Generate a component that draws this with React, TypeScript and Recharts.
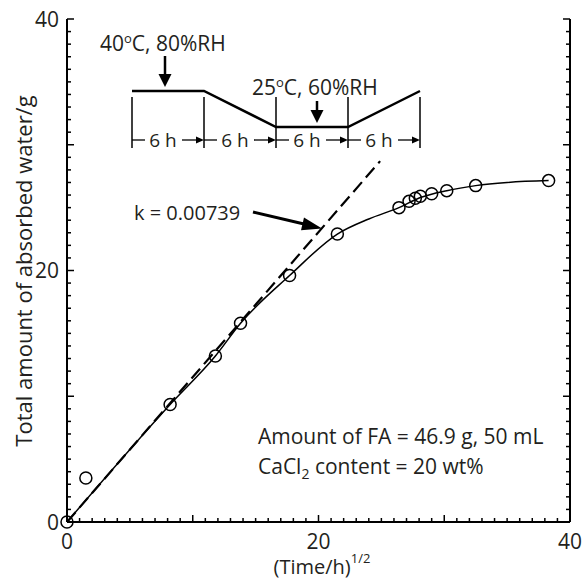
import { ComposedChart, Line, Scatter, XAxis, YAxis, ReferenceLine } from "recharts";

// measured points (open circles)
const OBS_X = [0, 1.5, 8.2, 11.8, 13.8, 17.7, 21.5, 26.4, 27.2, 27.7, 28.1, 29.0, 30.2, 32.5, 38.3];
const OBS_Y = [0, 3.5, 9.35, 13.2, 15.8, 19.6, 22.9, 25.0, 25.5, 25.75, 25.9, 26.1, 26.35, 26.75, 27.15];

// fitted curve
const FIT_X = [0, 8.2, 11.8, 13.8, 17.7, 21.5, 24, 26.4, 28.1, 30.2, 32.5, 35, 38.3];
const FIT_Y = [0, 9.35, 13.2, 15.8, 19.6, 22.9, 24.1, 25.0, 25.8, 26.35, 26.75, 27.0, 27.15];

// initial slope line, k = 0.00739
const K_X = [0, 24.9];
const K_Y = [0, 28.7];

const LABELLED_TICKS = [0, 20, 40];
const TICKS = Array.from({ length: 41 }, (_, i) => i);

const INK = "#231f20";
const FONT = "'Open Sans', sans-serif";

const obsData = OBS_X.map((x, i) => ({ x, y: OBS_Y[i] }));
const fitData = FIT_X.map((x, i) => ({ x, y: FIT_Y[i] }));

const tickLen = (v: number) => (v % 10 === 0 ? 7 : 4);

const BottomTick = ({ x, y, payload }: any) => {
  const v = payload.value;
  return (
    <g>
      <line x1={x} x2={x} y1={y} y2={y - tickLen(v)} stroke="#000" strokeWidth={1.5} />
      {LABELLED_TICKS.includes(v) && (
        <text x={x} y={y + 27} textAnchor="middle" fontSize={21} fontFamily={FONT} fill={INK}>
          {v}
        </text>
      )}
    </g>
  );
};

const TopTick = ({ x, y, payload }: any) => (
  <line x1={x} x2={x} y1={y} y2={y + tickLen(payload.value)} stroke="#000" strokeWidth={1.5} />
);

const LeftTick = ({ x, y, payload }: any) => {
  const v = payload.value;
  return (
    <g>
      <line x1={x} x2={x + tickLen(v)} y1={y} y2={y} stroke="#000" strokeWidth={1.5} />
      {LABELLED_TICKS.includes(v) && (
        <text x={x - 8} y={y + 7.5} textAnchor="end" fontSize={21} fontFamily={FONT} fill={INK}>
          {v}
        </text>
      )}
    </g>
  );
};

const RightTick = ({ x, y, payload }: any) => (
  <line x1={x} x2={x - tickLen(payload.value)} y1={y} y2={y} stroke="#000" strokeWidth={1.5} />
);

const Circle = ({ cx, cy }: any) => (
  <circle cx={cx} cy={cy} r={6} fill="none" stroke="#000" strokeWidth={1.5} />
);

// "|—6 h →|" segments of the humidity schedule
const BARS = [132, 204, 276, 348, 420];

export default function App() {
  const axisLine = { stroke: "#000", strokeWidth: 2 };
  return (
    <div style={{ position: "absolute", left: 0, top: 0, width: 585, height: 581, background: "#fff" }}>
      <ComposedChart width={585} height={581} margin={{ top: 19, right: 0, bottom: 0, left: 0 }}>
        <XAxis
          xAxisId="b"
          dataKey="x"
          type="number"
          domain={[0, 40]}
          ticks={TICKS}
          interval={0}
          height={59}
          tickSize={0}
          tickMargin={0}
          axisLine={axisLine}
          tickLine={false}
          tick={<BottomTick />}
        />
        <XAxis
          xAxisId="t"
          orientation="top"
          dataKey="x"
          type="number"
          domain={[0, 40]}
          ticks={TICKS}
          interval={0}
          height={0}
          tickSize={0}
          tickMargin={0}
          axisLine={axisLine}
          tickLine={false}
          tick={<TopTick />}
        />
        <YAxis
          yAxisId="l"
          type="number"
          domain={[0, 40]}
          ticks={TICKS}
          interval={0}
          width={67}
          tickSize={0}
          tickMargin={0}
          axisLine={axisLine}
          tickLine={false}
          tick={<LeftTick />}
        />
        <YAxis
          yAxisId="r"
          orientation="right"
          type="number"
          domain={[0, 40]}
          ticks={TICKS}
          interval={0}
          width={15}
          tickSize={0}
          tickMargin={0}
          axisLine={axisLine}
          tickLine={false}
          tick={<RightTick />}
        />
        <ReferenceLine
          xAxisId="b"
          yAxisId="l"
          segment={[
            { x: K_X[0], y: K_Y[0] },
            { x: K_X[1], y: K_Y[1] },
          ]}
          stroke="#000"
          strokeWidth={2.2}
          strokeDasharray="13 6"
        />
        <Line
          xAxisId="b"
          yAxisId="l"
          data={fitData}
          dataKey="y"
          type="monotone"
          stroke="#000"
          strokeWidth={1.5}
          dot={false}
          isAnimationActive={false}
        />
        <Scatter
          xAxisId="t"
          yAxisId="r"
          data={obsData}
          dataKey="y"
          shape={<Circle />}
          isAnimationActive={false}
        />
      </ComposedChart>

      <svg
        width={585}
        height={581}
        style={{ position: "absolute", left: 0, top: 0, pointerEvents: "none" }}
        fontFamily={FONT}
        fill={INK}
      >
        {/* axis titles */}
        <text x={322} y={574} textAnchor="middle" fontSize={20}>
          (Time/h)
          <tspan fontSize={13} dy={-11}>1/2</tspan>
        </text>
        <text transform="translate(32,271) rotate(-90)" textAnchor="middle" fontSize={22}>
          Total amount of absorbed water/g
        </text>

        {/* humidity schedule */}
        <text x={100} y={51} fontSize={21}>
          40<tspan fontSize={13} dy={-8}>o</tspan>
          <tspan dy={8}>C, 80%RH</tspan>
        </text>
        <line x1={165} x2={165} y1={56} y2={76} stroke="#000" strokeWidth={2.5} />
        <polygon points="158.5,74 171.5,74 165,87" fill="#000" />

        <text x={252} y={95} fontSize={21}>
          25<tspan fontSize={13} dy={-8}>o</tspan>
          <tspan dy={8}>C, 60%RH</tspan>
        </text>
        <line x1={317} x2={317} y1={101} y2={112} stroke="#000" strokeWidth={2.5} />
        <polygon points="310.5,110 323.5,110 317,123" fill="#000" />

        <polyline
          points={`${BARS[0]},91 ${BARS[1]},91 ${BARS[2]},127 ${BARS[3]},127 ${BARS[4]},91`}
          fill="none"
          stroke="#000"
          strokeWidth={2.5}
        />
        {BARS.map((bx) => (
          <line key={bx} x1={bx} x2={bx} y1={97} y2={148} stroke="#000" strokeWidth={1.5} />
        ))}
        {BARS.slice(0, 4).map((x0, i) => {
          const x1 = BARS[i + 1];
          return (
            <g key={x0}>
              <line x1={x0} x2={x0 + 13} y1={140} y2={140} stroke="#000" strokeWidth={1.3} />
              <text x={x0 + 31} y={147} textAnchor="middle" fontSize={19}>
                6 h
              </text>
              <line x1={x0 + 50} x2={x1 - 5} y1={140} y2={140} stroke="#000" strokeWidth={1.3} />
              <polygon points={`${x1 - 8},136.5 ${x1 - 8},143.5 ${x1},140`} fill="#000" />
            </g>
          );
        })}

        {/* slope annotation */}
        <text x={134} y={220} fontSize={20}>
          k = 0.00739
        </text>
        <line x1={253} y1={212} x2={304} y2={224} stroke="#000" strokeWidth={3} />
        <polygon points="301,230.2 304,217.6 322,228.5" fill="#000" />

        {/* conditions */}
        <text x={258} y={444} fontSize={21}>
          Amount of FA = 46.9 g, 50 mL
        </text>
        <text x={258} y={474} fontSize={21}>
          CaCl<tspan fontSize={14} dy={5}>2</tspan>
          <tspan dy={-5}> content = 20 wt%</tspan>
        </text>
      </svg>
    </div>
  );
}
